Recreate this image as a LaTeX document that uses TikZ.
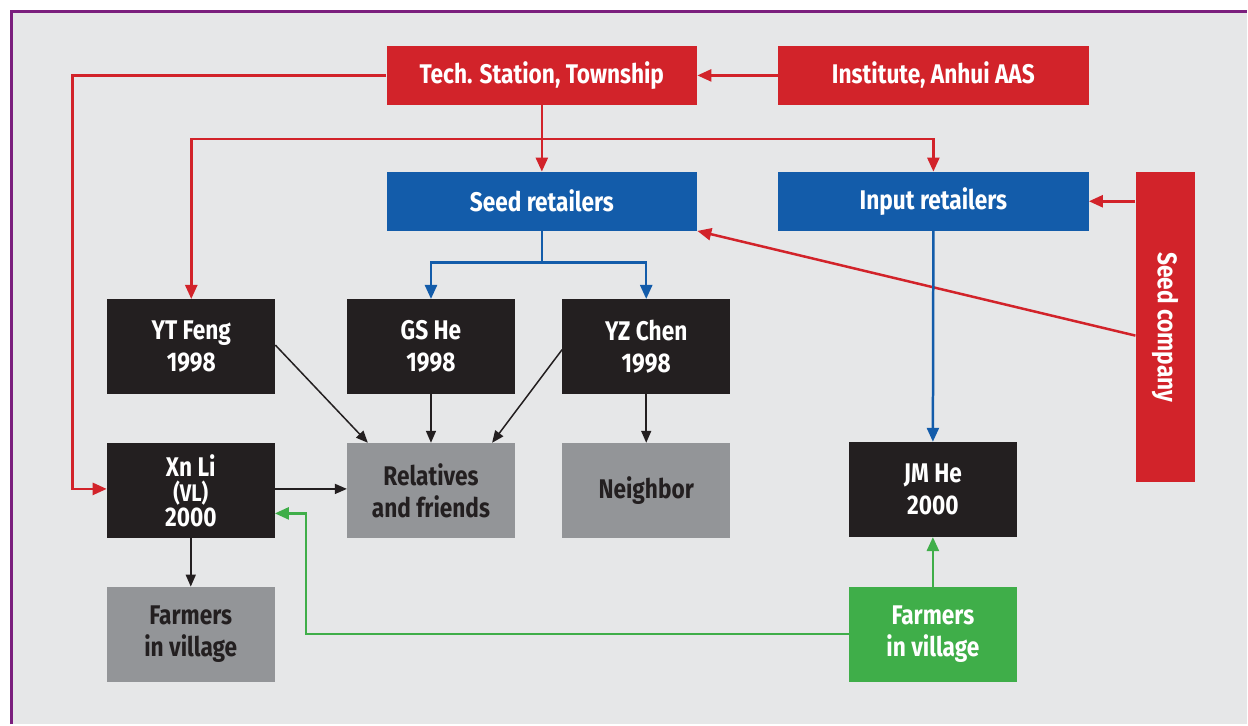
\documentclass[tikz,border=0pt]{standalone}
\usepackage{fontspec}
\setmainfont{Fira Sans}[FakeStretch=0.84]
\usetikzlibrary{arrows.meta}
\definecolor{bggray}{HTML}{E6E7E8}
\definecolor{framepurple}{HTML}{7B1F7E}
\definecolor{chinared}{HTML}{D2232A}
\definecolor{chinablue}{HTML}{135CAA}
\definecolor{nearblack}{HTML}{231F20}
\definecolor{midgray}{HTML}{939598}
\definecolor{farmgreen}{HTML}{3FAE49}
\tikzset{
  box/.style={minimum width=168pt, minimum height=95pt, inner sep=0pt, align=center,
    font=\fontsize{27}{32}\selectfont\bfseries, text=white},
  widebox/.style={box, minimum width=311pt, minimum height=59pt},
  redbox/.style={widebox, fill=chinared},
  bluebox/.style={widebox, fill=chinablue},
  personbox/.style={box, fill=nearblack},
  groupbox/.style={box, fill=midgray, text=nearblack},
  greenbox/.style={box, fill=farmgreen},
  redline/.style={draw=chinared, line width=2.5pt, -{Triangle[length=14pt,width=12pt]}},
  blueline/.style={draw=chinablue, line width=2.5pt, -{Triangle[length=14pt,width=12pt]}},
  greenline/.style={draw=farmgreen, line width=2.5pt, -{Triangle[length=14pt,width=12pt]}},
  blackline/.style={draw=nearblack, line width=1.5pt, -{Triangle[length=12pt,width=10pt]}}
}
\begin{document}
\begin{tikzpicture}[x=1pt,y=-1pt]
  \fill[white] (0,0) rectangle (1248,725);
  \fill[bggray] (12,12) rectangle (1248,725);
  \draw[framepurple, line width=3pt] (12,725) -- (12,12) -- (1248,12);
  % sources
  \node[redbox] (tech) at (542.5,75.5) {Tech. Station, Township};
  \node[redbox] (inst) at (934.5,75.5) {Institute, Anhui AAS};
  \node[bluebox] (seedr) at (542.5,201.5) {Seed retailers};
  \node[bluebox] (inputr) at (934.5,201.5) {Input retailers};
  \node[box, fill=chinared, minimum width=59pt, minimum height=311pt] (seedco) at (1166.5,327.5) {\rotatebox{-90}{Seed company}};
  % farmers
  \node[personbox] (ytfeng) at (191.5,347) {YT Feng\\1998};
  \node[personbox] (gshe) at (431.5,347) {GS He\\1998};
  \node[personbox] (yzchen) at (647,347) {YZ Chen\\1998};
  \node[personbox] (xnli) at (191,491) {Xn Li\\[-7pt]{\fontsize{24}{26}\selectfont(VL)}\\[-7pt]2000};
  \node[groupbox] (rel) at (431.5,491) {Relatives\\and friends};
  \node[groupbox] (neighbor) at (647,491) {Neighbor};
  \node[personbox] (jmhe) at (934,490) {JM He\\2000};
  \node[groupbox] (farmg) at (191,635) {Farmers\\in village};
  \node[greenbox] (farmv) at (934,635) {Farmers\\in village};
  % red links
  \draw[redline] (inst.west) -- (tech.east);
  \draw[redline] (tech.west) -| ([xshift=-34pt,yshift=1.5pt]xnli.west) -- ([yshift=1.5pt]xnli.west);
  \draw[redline] (tech.south) -- (seedr.north);
  \coordinate (redsplit) at (542.5,139);
  \draw[redline] (redsplit) -| (ytfeng.north);
  \draw[redline] (redsplit) -| (inputr.north);
  \draw[redline] (seedco.west |- inputr.east) -- (inputr.east);
  \draw[redline] ([yshift=-8.5pt]seedco.west) -- (seedr.south east);
  % blue links
  \coordinate (bluesplit) at (542.5,263);
  \draw[blueline] (seedr.south) -- (bluesplit) -| (gshe.north);
  \draw[blueline] (bluesplit) -| (yzchen.north);
  \draw[blueline] (inputr.south) -- (jmhe.north);
  % black links
  \draw[blackline] ([yshift=1.5pt]ytfeng.east) -- ([xshift=21pt]rel.north west);
  \draw[blackline] (gshe.south) -- (rel.north);
  \draw[blackline] ([yshift=-3pt]yzchen.west) -- ([xshift=-23pt]rel.north east);
  \draw[blackline] (yzchen.south) -- (neighbor.north);
  \draw[blackline] ([yshift=1.5pt]xnli.east) -- ([yshift=1.5pt]rel.west);
  \draw[blackline] (xnli.south) -- (farmg.north);
  % green links
  \draw[greenline] (farmv.west) -| ([xshift=31pt,yshift=-23pt]xnli.east) -- ([yshift=-23pt]xnli.east);
  \draw[greenline] (farmv.north) -- (jmhe.south);
\end{tikzpicture}
\end{document}
